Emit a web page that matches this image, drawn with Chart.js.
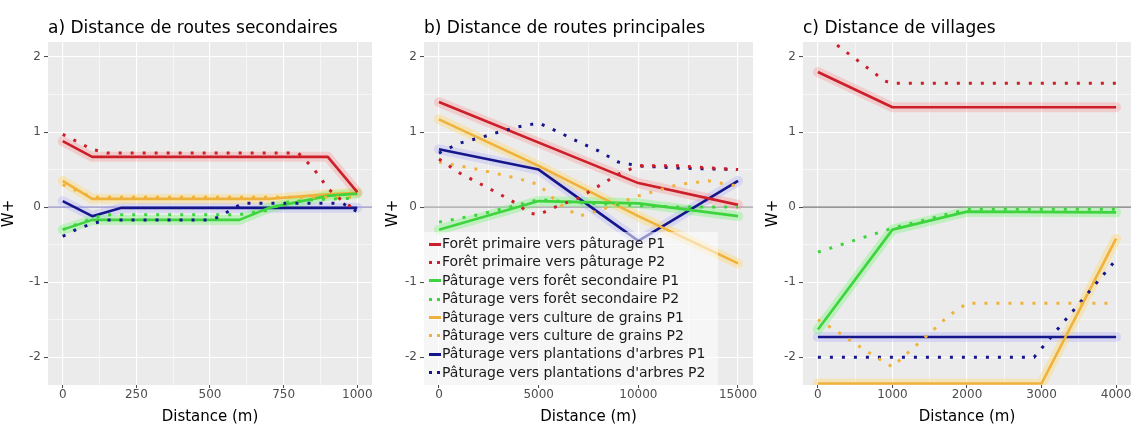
<!DOCTYPE html>
<html>
<head>
<meta charset="utf-8">
<script src="https://cdn.jsdelivr.net/npm/chart.js@4"></script>
<style>
  body { margin: 0; background: #fff; width: 1136px; height: 427px; position: relative; overflow: hidden; }
  .panel { position: absolute; top: 0; }
  #legend {
    position: absolute; left: 424px; top: 232px; width: 294px; height: 153px;
    background: rgba(255, 255, 255, 0.55);
    font: 14px 'DejaVu Sans', sans-serif; color: #1a1a1a;
    padding-top: 2px; box-sizing: border-box;
  }
  #legend div { height: 18.4px; line-height: 18.4px; white-space: nowrap; }
  #legend span.key { display: inline-block; width: 12px; height: 3px; margin: 0 1px 0 5px; vertical-align: middle; }
</style>
</head>
<body>
<div class="panel" style="left:0"><canvas id="chartA" width="380" height="427"></canvas></div>
<div class="panel" style="left:384px"><canvas id="chartB" width="376" height="427"></canvas></div>
<div class="panel" style="left:764px"><canvas id="chartC" width="372" height="427"></canvas></div>
<div id="legend"></div>

<script>
// --- libellés ---
const panelTitles = ['a) Distance de routes secondaires', 'b) Distance de routes principales', 'c) Distance de villages'];
const seriesLabels = [
  'Forêt primaire vers pâturage P1',
  'Forêt primaire vers pâturage P2',
  'Pâturage vers forêt secondaire P1',
  'Pâturage vers forêt secondaire P2',
  'Pâturage vers culture de grains P1',
  'Pâturage vers culture de grains P2',
  "Pâturage vers plantations d'arbres P1",
  "Pâturage vers plantations d'arbres P2"
];
const yTicks = [-2, -1, 0, 1, 2];
const xTicksA = [0, 250, 500, 750, 1000];
const xTicksB = [0, 5000, 10000, 15000];
const xTicksC = [0, 1000, 2000, 3000, 4000];

// --- a) routes secondaires : [distance, W+] ---
const secForPatP1 = [[0, 0.88], [100, 0.67], [900, 0.67], [1000, 0.2]];
const secForPatP2 = [[0, 0.97], [50, 0.87], [100, 0.77], [150, 0.72], [800, 0.72], [850, 0.52], [875, 0.39], [900, 0.25], [950, 0.08], [1000, -0.05]];
const secPatForP1 = [[0, -0.3], [100, -0.17], [600, -0.17], [700, -0.01], [900, 0.15], [1000, 0.18]];
const secPatForP2 = [[0, -0.3], [100, -0.15], [150, -0.1], [600, -0.1], [700, -0.04], [750, 0.06], [850, 0.1], [1000, 0.12]];
const secPatCultP1 = [[0, 0.35], [100, 0.11], [700, 0.11], [900, 0.17], [1000, 0.19]];
const secPatCultP2 = [[0, 0.3], [100, 0.13], [1000, 0.13]];
const secPatPlantP1 = [[0, 0.08], [100, -0.12], [200, -0.01], [1000, -0.01]];
const secPatPlantP2 = [[0, -0.39], [50, -0.29], [100, -0.22], [150, -0.17], [500, -0.17], [530, -0.13], [570, -0.04], [610, 0.05], [950, 0.05], [1000, -0.06]];

// --- b) routes principales ---
const prinForPatP1 = [[0, 1.4], [10000, 0.32], [15000, 0.03]];
const prinForPatP2 = [[0, 0.64], [1000, 0.46], [2000, 0.32], [3000, 0.18], [4000, 0.03], [4500, -0.08], [5000, -0.1], [6000, 0.02], [7000, 0.12], [8000, 0.28], [9000, 0.44], [10000, 0.55], [12000, 0.55], [15000, 0.5]];
const prinPatForP1 = [[0, -0.3], [5000, 0.08], [10000, 0.05], [15000, -0.12]];
const prinPatForP2 = [[0, -0.2], [2000, -0.1], [4000, 0.03], [5000, 0.1], [7000, 0.06], [10000, 0.02], [12000, 0.0], [15000, 0.0]];
const prinPatCultP1 = [[0, 1.17], [5000, 0.55], [10000, -0.12], [15000, -0.75]];
const prinPatCultP2 = [[0, 0.6], [2000, 0.5], [4000, 0.38], [5000, 0.3], [6000, 0.05], [7000, -0.12], [8000, -0.05], [10000, 0.15], [12000, 0.3], [13500, 0.35], [15000, 0.28]];
const prinPatPlantP1 = [[0, 0.77], [5000, 0.5], [10000, -0.45], [15000, 0.35]];
const prinPatPlantP2 = [[0, 0.72], [1000, 0.85], [2000, 0.92], [3000, 1.0], [4000, 1.07], [5000, 1.12], [6000, 1.0], [7000, 0.87], [8000, 0.75], [9000, 0.6], [10000, 0.55], [12000, 0.52], [15000, 0.5]];

// --- c) villages ---
const vilForPatP1 = [[0, 1.8], [1000, 1.33], [4000, 1.33]];
const vilForPatP2 = [[0, 2.35], [900, 1.68], [1000, 1.65], [4000, 1.65]];
const vilPatForP1 = [[0, -1.63], [1000, -0.3], [2000, -0.06], [4000, -0.07]];
const vilPatForP2 = [[0, -0.6], [1000, -0.28], [2000, -0.03], [4000, -0.03]];
const vilPatCultP1 = [[0, -2.35], [3000, -2.35], [4000, -0.42]];
const vilPatCultP2 = [[0, -1.5], [250, -1.65], [500, -1.82], [750, -1.98], [1000, -2.13], [1250, -1.9], [1500, -1.68], [1750, -1.45], [2000, -1.28], [4000, -1.28]];
const vilPatPlantP1 = [[0, -1.73], [4000, -1.73]];
const vilPatPlantP2 = [[0, -2.0], [2900, -2.0], [4000, -0.7]];

const lineColours = ['#cc1f2a', '#3ed43e', '#efb23c', '#16168c'];
const bandColours = ['rgba(255,130,130,0.28)', 'rgba(110,245,110,0.35)', 'rgba(255,215,110,0.4)', 'rgba(150,150,255,0.25)'];

Chart.defaults.font.family = "'DejaVu Sans', sans-serif";

// fond gris du panneau + ligne horizontale à 0
const panelBg = {
  id: 'panelBg',
  beforeDraw(chart) {
    const { ctx, chartArea: a } = chart;
    ctx.save();
    ctx.fillStyle = '#ebebeb';
    ctx.fillRect(a.left, a.top, a.width, a.height);
    ctx.restore();
  },
  beforeDatasetsDraw(chart, args, opts) {
    const { ctx, chartArea: a } = chart;
    const y = chart.scales.y.getPixelForValue(0);
    ctx.save();
    ctx.strokeStyle = opts.color;
    ctx.lineWidth = 1;
    ctx.beginPath();
    ctx.moveTo(a.left, y);
    ctx.lineTo(a.right, y);
    ctx.stroke();
    ctx.restore();
  }
};

function buildDatasets(series) {
  const sets = [];
  series.forEach((pts, i) => {
    const k = Math.floor(i / 2);
    const data = pts.map(([x, y]) => ({ x, y }));
    const base = { data, pointRadius: 0, tension: 0, fill: false, clip: 0, borderJoinStyle: 'round' };
    if (i % 2 === 0) {
      // intervalle autour de la courbe P1
      sets.push({ ...base, label: seriesLabels[i] + ' IC', borderColor: bandColours[k], borderWidth: 10, borderCapStyle: 'round', order: 20 });
      sets.push({ ...base, label: seriesLabels[i], borderColor: lineColours[k], borderWidth: 2.6, order: 5 });
    } else {
      sets.push({ ...base, label: seriesLabels[i], borderColor: lineColours[k], borderWidth: 3, borderDash: [3, 9], order: 2 });
    }
  });
  return sets;
}

function halfSteps(major) {
  const step = major[1] - major[0];
  const out = [];
  major.forEach((v, i) => {
    out.push(v);
    if (i < major.length - 1) out.push(v + step / 2);
  });
  return out;
}

function makeChart(id, title, series, xMin, xMax, xMajor, yWidth, padRight, zeroColour) {
  const xGrid = halfSteps(xMajor);
  const yGrid = halfSteps(yTicks);
  const isMajorX = v => xMajor.includes(v);
  const isMajorY = v => yTicks.includes(v);
  return new Chart(document.getElementById(id), {
    type: 'line',
    data: { datasets: buildDatasets(series) },
    options: {
      responsive: false,
      animation: false,
      devicePixelRatio: 1,
      layout: { padding: { left: 0, right: padRight, top: 0, bottom: 0 } },
      plugins: {
        legend: { display: false },
        tooltip: { enabled: false },
        title: {
          display: true, text: title, align: 'start', fullSize: false,
          color: '#000', font: { size: 17, weight: 'normal' },
          padding: { top: 18, bottom: 3.6 }
        },
        panelBg: { color: zeroColour }
      },
      scales: {
        x: {
          type: 'linear', min: xMin, max: xMax,
          afterBuildTicks: s => { s.ticks = xGrid.map(v => ({ value: v })); },
          afterFit: s => { s.height = 42; },
          ticks: {
            autoSkip: false, maxRotation: 0, padding: 0, color: '#4d4d4d', font: { size: 12 },
            callback: v => isMajorX(v) ? String(v) : ''
          },
          grid: {
            color: '#ffffff', tickLength: 3, tickWidth: 1,
            lineWidth: c => isMajorX(c.tick.value) ? 1.1 : 0.55,
            tickColor: c => isMajorX(c.tick.value) ? '#444' : 'rgba(0,0,0,0)'
          },
          border: { display: false },
          title: { display: true, text: 'Distance (m)', color: '#000', font: { size: 15 }, padding: { top: 0, bottom: 1.3 } }
        },
        y: {
          type: 'linear', min: -2.37, max: 2.2,
          afterBuildTicks: s => { s.ticks = yGrid.map(v => ({ value: v })); },
          afterFit: s => { s.width = yWidth; },
          ticks: {
            autoSkip: false, padding: 3, color: '#4d4d4d', font: { size: 12 },
            callback: v => isMajorY(v) ? String(v) : ''
          },
          grid: {
            color: '#ffffff', tickLength: 4, tickWidth: 1,
            lineWidth: c => isMajorY(c.tick.value) ? 1.1 : 0.55,
            tickColor: c => isMajorY(c.tick.value) ? '#444' : 'rgba(0,0,0,0)'
          },
          border: { display: false },
          title: { display: true, text: 'W+', color: '#000', font: { size: 15 }, padding: { top: 0, bottom: 0 } }
        }
      }
    },
    plugins: [panelBg]
  });
}

makeChart('chartA', panelTitles[0],
  [secForPatP1, secForPatP2, secPatForP1, secPatForP2, secPatCultP1, secPatCultP2, secPatPlantP1, secPatPlantP2],
  -50, 1050, xTicksA, 48, 8, '#7d77b8');
makeChart('chartB', panelTitles[1],
  [prinForPatP1, prinForPatP2, prinPatForP1, prinPatForP2, prinPatCultP1, prinPatCultP2, prinPatPlantP1, prinPatPlantP2],
  -750, 15750, xTicksB, 40, 7, '#8a8a8a');
makeChart('chartC', panelTitles[2],
  [vilForPatP1, vilForPatP2, vilPatForP1, vilPatForP2, vilPatCultP1, vilPatCultP2, vilPatPlantP1, vilPatPlantP2],
  -200, 4200, xTicksC, 39, 5, '#555555');

// légende commune, posée dans le panneau b
const legendBox = document.getElementById('legend');
seriesLabels.forEach((label, i) => {
  const c = lineColours[Math.floor(i / 2)];
  const row = document.createElement('div');
  const key = document.createElement('span');
  key.className = 'key';
  key.style.background = i % 2 === 0
    ? c
    : `linear-gradient(to right, ${c} 0 3px, transparent 3px 8px, ${c} 8px 11px, transparent 11px)`;
  row.appendChild(key);
  row.appendChild(document.createTextNode(label));
  legendBox.appendChild(row);
});
</script>
</body>
</html>
